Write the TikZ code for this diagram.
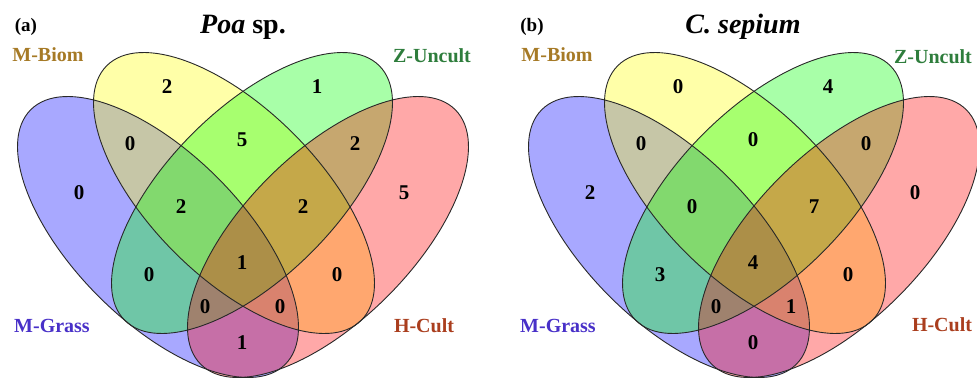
\documentclass[tikz,border=0pt]{standalone}
\usepackage{fontspec}
\setmainfont{Liberation Serif}
\definecolor{cBlue}{RGB}{0,0,255}
\definecolor{cYellow}{RGB}{255,255,0}
\definecolor{cGreen}{RGB}{0,255,0}
\definecolor{cRed}{RGB}{255,0,0}
\definecolor{cBiom}{RGB}{166,122,38}
\definecolor{cUncult}{RGB}{46,125,60}
\definecolor{cGrass}{RGB}{72,48,200}
\definecolor{cCult}{RGB}{170,62,30}
\definecolor{cLine}{RGB}{40,40,40}
\newcommand{\vellfill}[4]{\begin{scope}[shift={(#1,#2)},rotate=#3]\fill[#4,fill opacity=0.34] (0,0) ellipse [x radius=180pt,y radius=84pt];\end{scope}}
\newcommand{\velldraw}[3]{\begin{scope}[shift={(#1,#2)},rotate=#3]\draw[cLine,line width=0.9pt] (0,0) ellipse [x radius=180pt,y radius=84pt];\end{scope}}
\newcommand{\vennsets}{%
  \vellfill{158}{237}{-45}{cBlue}
  \vellfill{234}{193}{-45}{cYellow}
  \vellfill{252}{193}{45}{cGreen}
  \vellfill{328}{237}{45}{cRed}
  \velldraw{158}{237}{-45}
  \velldraw{234}{193}{-45}
  \velldraw{252}{193}{45}
  \velldraw{328}{237}{45}}
\begin{document}
\begin{tikzpicture}[x=1pt,y=-1pt,
  num/.style={font=\bfseries\fontsize{21}{21}\selectfont, inner sep=0pt},
  cat/.style={font=\bfseries\fontsize{20}{20}\selectfont, inner sep=0pt},
  ttl/.style={font=\bfseries\fontsize{28}{28}\selectfont, inner sep=0pt, anchor=base},
  pnl/.style={font=\bfseries\fontsize{19}{19}\selectfont, inner sep=0pt, anchor=base}]
\useasboundingbox (0,0) rectangle (977,378);
\clip (0,0) rectangle (977,378);
% ---------- panel (a) ----------
\vennsets
\node[pnl] (pa) at (26,31) {(a)};
\node[ttl] (ta) at (243,33.5) {\textit{Poa} sp.};
\node[cat, text=cBiom] (la-biom) at (48,55) {M-Biom};
\node[cat, text=cUncult] (la-uncult) at (432,56) {Z-Uncult};
\node[cat, text=cGrass] (la-grass) at (52,326) {M-Grass};
\node[cat, text=cCult] (la-cult) at (424,326) {H-Cult};
\node[num] (a-bo) at (79,193) {0};
\node[num] (a-yo) at (167,87) {2};
\node[num] (a-go) at (317,87) {1};
\node[num] (a-po) at (404,193) {5};
\node[num] (a-by) at (130,144) {0};
\node[num] (a-yg) at (242,140) {5};
\node[num] (a-gp) at (355,144) {2};
\node[num] (a-byg) at (181,207) {2};
\node[num] (a-ygp) at (303,207) {2};
\node[num] (a-all) at (242,263) {1};
\node[num] (a-bg) at (149,275) {0};
\node[num] (a-yp) at (337,275) {0};
\node[num] (a-bgp) at (205,307) {0};
\node[num] (a-byp) at (280,307) {0};
\node[num] (a-bp) at (242,343) {1};
% ---------- panel (b) ----------
\begin{scope}[xshift=511pt]
\vennsets
\node[num] (b-bo) at (79,193) {2};
\node[num] (b-yo) at (167,87) {0};
\node[num] (b-go) at (317,87) {4};
\node[num] (b-po) at (404,193) {0};
\node[num] (b-by) at (130,144) {0};
\node[num] (b-yg) at (242,140) {0};
\node[num] (b-gp) at (355,144) {0};
\node[num] (b-byg) at (181,207) {0};
\node[num] (b-ygp) at (303,207) {7};
\node[num] (b-all) at (242,263) {4};
\node[num] (b-bg) at (149,275) {3};
\node[num] (b-yp) at (337,275) {0};
\node[num] (b-bgp) at (205,307) {0};
\node[num] (b-byp) at (280,307) {1};
\node[num] (b-bp) at (242,343) {0};
\end{scope}
\node[pnl] (pb) at (532,31) {(b)};
\node[ttl] (tb) at (743,33) {\textit{C. sepium}};
\node[cat, text=cBiom] (lb-biom) at (557,55) {M-Biom};
\node[cat, text=cUncult] (lb-uncult) at (933,57) {Z-Uncult};
\node[cat, text=cGrass] (lb-grass) at (558,326) {M-Grass};
\node[cat, text=cCult] (lb-cult) at (942,325) {H-Cult};
\end{tikzpicture}
\end{document}
